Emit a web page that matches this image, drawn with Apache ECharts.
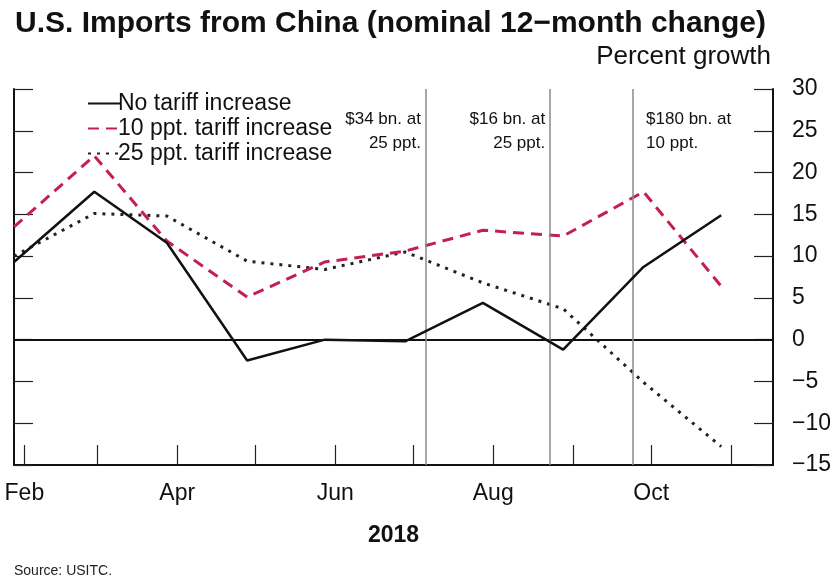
<!DOCTYPE html>
<html><head><meta charset="utf-8">
<script src="https://cdn.jsdelivr.net/npm/echarts@6/dist/echarts.min.js"></script>
<style>html,body{margin:0;padding:0;background:#fff}#c{width:839px;height:579px}</style>
</head><body><div id="c"></div>
<script>
const dates = ['2018-01-28','2018-02-28','2018-03-28','2018-04-28','2018-05-28','2018-06-28','2018-07-28','2018-08-28','2018-09-28','2018-10-28'];
const noTariff = [9.3, 17.7, 11.6, -2.5, 0.0, -0.2, 4.4, -1.2, 8.7, 14.9];
const tariff10 = [13.5, 22.0, 11.8, 5.1, 9.3, 10.6, 13.1, 12.4, 17.7, 6.4];
const tariff25 = [10.0, 15.1, 14.8, 9.4, 8.4, 10.5, 6.8, 3.7, -5.1, -12.8];
const seriesNames = ['No tariff increase', '10 ppt. tariff increase', '25 ppt. tariff increase'];
const eventDates = ['2018-07-06', '2018-08-23', '2018-09-24'];
const eventLabels = ['$34 bn. at\n25 ppt.', '$16 bn. at\n25 ppt.', '$180 bn. at\n10 ppt.'];
const labelMonths = ['Feb', 'Apr', 'Jun', 'Aug', 'Oct'];
const monthNames = ['Jan','Feb','Mar','Apr','May','Jun','Jul','Aug','Sep','Oct','Nov','Dec'];

const FONT = "'Liberation Sans', Arial, sans-serif";
const pair = arr => dates.map((d, i) => [d, arr[i]]);
const chart = echarts.init(document.getElementById('c'), null, {renderer: 'canvas'});

const option = {
  animation: false,
  backgroundColor: '#ffffff',
  textStyle: {fontFamily: FONT, color: '#111'},
  title: {
    text: 'U.S. Imports from China (nominal 12\u2212month change)',
    left: 10, top: 4,
    textStyle: {fontFamily: FONT, fontSize: 30, fontWeight: 'bold', color: '#111'}
  },
  legend: {
    orient: 'vertical', left: 82, top: 87, itemWidth: 33, itemHeight: 12, itemGap: 2,
    data: seriesNames,
    itemStyle: {opacity: 0},
    textStyle: {fontFamily: FONT, fontSize: 23, color: '#111', padding: [0,0,0,-8]}
  },
  grid: {left: 14, right: 66, top: 89, bottom: 114, containLabel: false},
  xAxis: {
    type: 'time', min: '2018-01-28', max: '2018-11-17', splitNumber: 10,
    axisLine: {onZero: false, lineStyle: {color: '#111', width: 2}},
    axisTick: {inside: true, length: 20, lineStyle: {color: '#222', width: 1.2}},
    minorTick: {show: false},
    splitLine: {show: false},
    axisLabel: {
      margin: 17, fontSize: 23, color: '#111', fontFamily: FONT,
      showMinLabel: false, showMaxLabel: false,
      formatter: function (v) {
        const m = monthNames[new Date(v).getMonth()];
        return labelMonths.indexOf(m) >= 0 ? m : '';
      }
    },
    name: '2018', nameLocation: 'middle', nameGap: 59,
    nameTextStyle: {fontFamily: FONT, fontSize: 23, fontWeight: 'bold', color: '#111'}
  },
  yAxis: [{
    type: 'value', position: 'right', min: -15, max: 30, interval: 5,
    axisLine: {show: true, lineStyle: {color: '#111', width: 2}},
    axisTick: {show: true, inside: true, length: 19, lineStyle: {color: '#222', width: 1.2}},
    splitLine: {show: false},
    axisLabel: {margin: 19, fontSize: 23, color: '#111', fontFamily: FONT,
      formatter: v => String(v).replace('-', '\u2212')},
    name: 'Percent growth', nameLocation: 'end', nameGap: 19,
    nameTextStyle: {align: 'right', fontSize: 26, color: '#111', fontFamily: FONT, padding: [0, 2, 0, 0]}
  }, {
    type: 'value', position: 'left', min: -15, max: 30, interval: 5,
    axisLine: {show: true, lineStyle: {color: '#111', width: 2}},
    axisTick: {show: true, inside: true, length: 19, lineStyle: {color: '#222', width: 1.2}},
    splitLine: {show: false},
    axisLabel: {show: false}
  }],
  series: [{
    name: seriesNames[0], type: 'line', symbol: 'none', yAxisIndex: 0, z: 5,
    data: pair(noTariff),
    lineStyle: {color: '#111', width: 2.5}, itemStyle: {color: '#111'},
    markLine: {
      silent: true, symbol: ['none', 'none'], label: {show: false}, animation: false,
      data: [
        {yAxis: 0, lineStyle: {color: '#111', width: 2, type: 'solid'}},
        ...eventDates.map(d => ({xAxis: d, lineStyle: {color: '#8a8a8a', width: 1.5, type: 'solid'}}))
      ]
    }
  }, {
    name: seriesNames[1], type: 'line', symbol: 'none', yAxisIndex: 0, z: 4,
    data: pair(tariff10),
    lineStyle: {color: '#c4204e', width: 3, type: [11, 7]}, itemStyle: {color: '#c4204e'}
  }, {
    name: seriesNames[2], type: 'line', symbol: 'none', yAxisIndex: 0, z: 3,
    data: pair(tariff25),
    lineStyle: {color: '#222', width: 3, type: [3, 6]}, itemStyle: {color: '#222'}
  }],
  graphic: [{
    type: 'text', left: 14, top: 564,
    style: {text: 'Source: USITC.', fontSize: 14, fontFamily: FONT, fill: '#222'}
  }]
};
chart.setOption(option);

const y30 = chart.convertToPixel({yAxisIndex: 0}, 30);
const annots = eventDates.map((d, i) => {
  const x = chart.convertToPixel({xAxisIndex: 0}, d);
  const right = i < 2;
  return {
    type: 'text', x: right ? x - 5 : x + 13, y: y30 + 18,
    style: {text: eventLabels[i], fontSize: 17, fontFamily: FONT, fill: '#111',
      align: right ? 'right' : 'left', verticalAlign: 'top', lineHeight: 24}
  };
});
chart.setOption({graphic: option.graphic.concat(annots)});
</script></body></html>
